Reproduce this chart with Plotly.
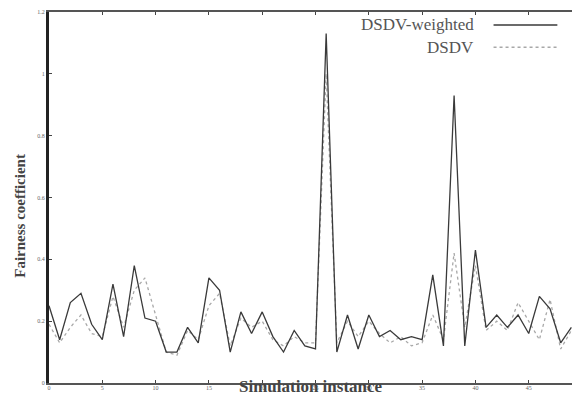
import plotly.graph_objects as go

instances = list(range(50))
dsdv_weighted = [0.25,0.14,0.26,0.29,0.19,0.14,0.32,0.15,0.38,0.21,
                 0.20,0.10,0.10,0.18,0.13,0.34,0.30,0.10,0.23,0.16,
                 0.23,0.15,0.10,0.17,0.12,0.11,1.13,0.10,0.22,0.11,
                 0.22,0.15,0.17,0.14,0.15,0.14,0.35,0.12,0.93,0.12,
                 0.43,0.18,0.22,0.18,0.22,0.16,0.28,0.24,0.13,0.18]
dsdv = [0.19,0.13,0.18,0.22,0.16,0.15,0.28,0.18,0.30,0.34,
        0.22,0.10,0.09,0.17,0.14,0.25,0.29,0.12,0.21,0.18,
        0.20,0.14,0.12,0.15,0.13,0.13,1.00,0.13,0.20,0.15,
        0.20,0.16,0.13,0.15,0.12,0.13,0.22,0.14,0.42,0.18,
        0.38,0.17,0.20,0.17,0.26,0.20,0.14,0.27,0.11,0.17]
series_names = ["DSDV-weighted", "DSDV"]
x_ticks = [0, 5, 10, 15, 20, 25, 30, 35, 40, 45]
y_ticks = [0, 0.2, 0.4, 0.6, 0.8, 1, 1.2]
y_tick_labels = ["0", "0.2", "0.4", "0.6", "0.8", "1", "1.2"]

dark = "#3a3a3a"
light = "#a8a8a8"
serif = "Liberation Serif, Times New Roman, serif"

fig = go.Figure()
fig.add_trace(go.Scatter(x=instances, y=dsdv, mode="lines", name=series_names[1],
                         line=dict(color=light, width=1.3, dash="dot"), showlegend=False))
fig.add_trace(go.Scatter(x=instances, y=dsdv_weighted, mode="lines", name=series_names[0],
                         line=dict(color=dark, width=1.3), showlegend=False))

fig.update_layout(
    width=572, height=398,
    margin=dict(l=49, r=0, t=12, b=15),
    paper_bgcolor="white", plot_bgcolor="white",
    font=dict(family=serif, color="#555"),
)
fig.update_xaxes(range=[0, 49.06], tickvals=x_ticks, ticks="inside", ticklen=3,
                 tickcolor="#444", showgrid=False, zeroline=False,
                 showline=True, linecolor="#555", linewidth=1.5, mirror="ticks",
                 ticklabelstandoff=-2,
                 tickfont=dict(size=6, color="#666"))
fig.update_yaxes(range=[0, 1.2], tickvals=y_ticks, ticktext=y_tick_labels,
                 ticks="inside", ticklen=3, tickcolor="#444", showgrid=False,
                 zeroline=False, showline=True, linecolor="#222", linewidth=3,
                 tickfont=dict(size=6, color="#666"))

# axis titles
fig.add_annotation(text="<b>Simulation instance</b>", xref="paper", yref="paper",
                   x=0.5, y=-0.0405, xanchor="center", yanchor="bottom", showarrow=False,
                   font=dict(family=serif, size=17, color="#444"))
fig.add_annotation(text="<b>Fairness coefficient</b>", xref="paper", yref="paper",
                   x=-0.056, y=0.45, xanchor="center", yanchor="middle",
                   textangle=-90, showarrow=False,
                   font=dict(family=serif, size=15, color="#444"))

# legend (text right, line sample on the right)
legend_rows = [(series_names[0], dark, "solid", 0.965), (series_names[1], light, "dot", 0.905)]
for name, col, dash, yy in legend_rows:
    fig.add_annotation(text=name, xref="paper", yref="paper", x=0.817, y=yy,
                       xanchor="right", yanchor="middle", showarrow=False,
                       font=dict(family=serif, size=17, color="#555"))
    fig.add_shape(type="line", xref="paper", yref="paper", x0=0.85, x1=0.972,
                  y0=yy, y1=yy, line=dict(color=col, width=1.3, dash=dash))

fig.write_html("out.html", config={"displayModeBar": False},
               post_script="document.body.style.margin='0';document.body.style.overflow='hidden';")
